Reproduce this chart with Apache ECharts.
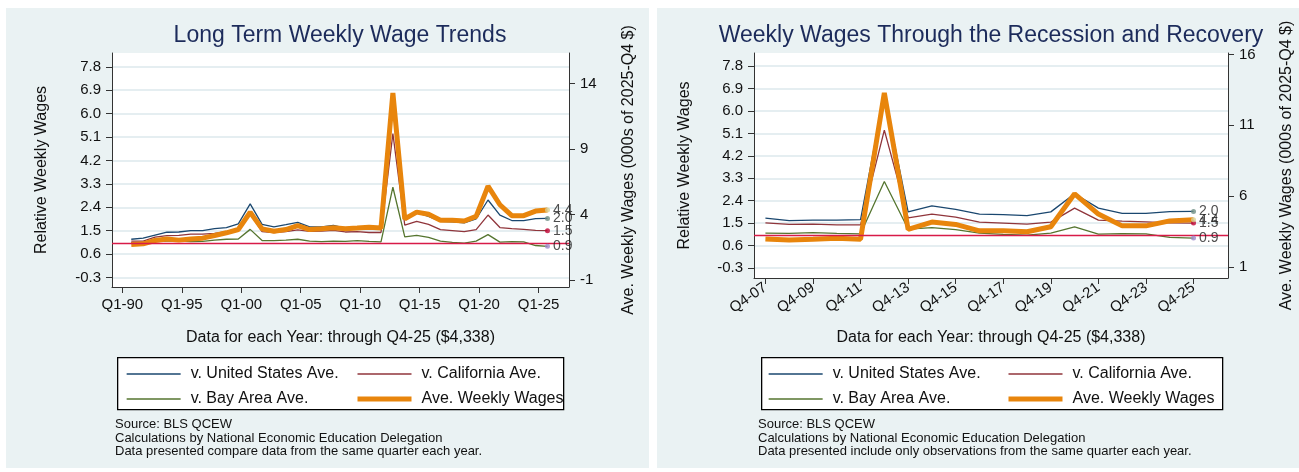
<!DOCTYPE html>
<html><head><meta charset="utf-8">
<script src="https://cdn.jsdelivr.net/npm/echarts@6/dist/echarts.min.js"></script>
<style>html,body{margin:0;padding:0;background:#fff}#c{width:1299px;height:472px}</style>
</head><body><div id="c"></div>
<script>
// ---- data (Q4 of each year) ----
const years = [1990,1991,1992,1993,1994,1995,1996,1997,1998,1999,2000,2001,2002,2003,2004,2005,2006,2007,2008,2009,2010,2011,2012,2013,2014,2015,2016,2017,2018,2019,2020,2021,2022,2023,2024,2025];
const usRel  = [1.17,1.21,1.33,1.44,1.45,1.50,1.50,1.58,1.62,1.76,2.53,1.74,1.65,1.73,1.82,1.65,1.65,1.70,1.60,1.62,1.62,1.64,6.70,1.95,2.19,2.05,1.86,1.84,1.80,1.95,2.68,2.10,1.89,1.89,1.96,1.97];
const caRel  = [1.10,1.10,1.25,1.31,1.32,1.37,1.37,1.40,1.46,1.53,2.15,1.46,1.43,1.46,1.53,1.47,1.48,1.51,1.45,1.46,1.43,1.43,5.23,1.71,1.86,1.74,1.54,1.50,1.46,1.54,2.10,1.62,1.58,1.55,1.51,1.50];
const bayRel = [1.04,1.04,1.08,1.10,1.10,1.08,1.09,1.14,1.17,1.18,1.55,1.12,1.12,1.14,1.17,1.10,1.08,1.10,1.09,1.12,1.09,1.07,3.17,1.26,1.32,1.24,1.10,1.05,1.02,1.10,1.35,1.06,1.08,1.07,0.93,0.90];
const avgWage = [1.70,1.76,2.01,2.13,2.04,2.13,2.19,2.39,2.60,2.85,4.17,2.90,2.72,2.85,3.15,2.85,2.90,2.99,2.91,2.96,3.03,2.97,13.28,3.66,4.18,4.01,3.56,3.56,3.50,3.85,6.17,4.74,3.91,3.91,4.26,4.338];
const endLabels = ['2.0','1.5','0.9','4.4'];
const recStartYear = 2007;

// ---- ticks ----
const relTicks = [-0.3,0.6,1.5,2.4,3.3,4.2,5.1,6.0,6.9,7.8];
const longWageTicks = [-1,4,9,14];
const recWageTicks = [1,6,11,16];
const longXTicks = [1990,1995,2000,2005,2010,2015,2020,2025];
const longXLabels = ['Q1-90','Q1-95','Q1-00','Q1-05','Q1-10','Q1-15','Q1-20','Q1-25'];
const recXTicks = [2007.75,2009.75,2011.75,2013.75,2015.75,2017.75,2019.75,2021.75,2023.75,2025.75];
const recXLabels = ['Q4-07','Q4-09','Q4-11','Q4-13','Q4-15','Q4-17','Q4-19','Q4-21','Q4-23','Q4-25'];

const names = ['v. United States Ave.','v. California Ave.','v. Bay Area Ave.','Ave. Weekly Wages'];
const colors = ['#1a476f','#90353b','#55752f','#e8850c'];
const dotColors = ['#6e8e84','#c10534','#9c88c9','#d7cf93'];
const FONT = 'Liberation Sans, Arial, Helvetica, sans-serif';
const AX = '#333';

function pts(arr, from){ return years.map((y,i)=>[y+0.75, arr[i]]).filter(p=>p[0] >= from); }

function xAxis(grid, min, max, ticks, labels, rotate, gap, margin){
  return {gridIndex:grid, type:'value', min:min, max:max,
    axisLine:{show:true, onZero:false, lineStyle:{color:AX, width:1}},
    axisTick:{show:true, length:6, customValues:ticks, lineStyle:{color:AX}},
    axisLabel:{customValues:ticks, rotate:rotate, margin:margin, fontSize:15, color:'#111', fontFamily:FONT,
      formatter:v=>labels[ticks.indexOf(v)]},
    splitLine:{show:false},
    name:'Data for each Year: through Q4-25 ($4,338)', nameLocation:'middle', nameGap:gap,
    nameTextStyle:{fontSize:16, color:'#111', fontFamily:FONT}};
}
function relAxis(grid, min, max, gap){
  return {gridIndex:grid, type:'value', position:'left', min:min, max:max,
    axisLine:{show:true, onZero:false, lineStyle:{color:AX}},
    axisTick:{show:true, length:6, customValues:relTicks, lineStyle:{color:AX}},
    axisLabel:{customValues:relTicks, margin:11, fontSize:15, color:'#111', fontFamily:FONT, formatter:v=>v.toFixed(1)},
    splitLine:{show:true, lineStyle:{color:'#dde8ec', width:1.5}},
    name:'Relative Weekly Wages', nameLocation:'middle', nameRotate:90, nameGap:gap,
    nameTextStyle:{fontSize:16, color:'#111', fontFamily:FONT}};
}
function wageAxis(grid, min, max, ticks, gap){
  return {gridIndex:grid, type:'value', position:'right', min:min, max:max,
    axisLine:{show:true, onZero:false, lineStyle:{color:AX}},
    axisTick:{show:true, length:6, customValues:ticks, lineStyle:{color:AX}},
    axisLabel:{customValues:ticks, margin:11, fontSize:15, color:'#111', fontFamily:FONT, formatter:v=>String(v)},
    splitLine:{show:false},
    name:'Ave. Weekly Wages (000s of 2025-Q4 $)', nameLocation:'middle', nameRotate:90, nameGap:gap,
    nameTextStyle:{fontSize:16, color:'#111', fontFamily:FONT}};
}

function panelSeries(xi, yRel, yWage, from){
  const rel = [usRel, caRel, bayRel];
  const s = [];
  rel.forEach((arr,i)=>{
    const o = {type:'line', name:names[i], xAxisIndex:xi, yAxisIndex:yRel, data:pts(arr,from),
      symbol:'none', showSymbol:false, animation:false, z:2,
      lineStyle:{width:1.3, color:colors[i]}, itemStyle:{color:colors[i]}};
    if(i===0){
      o.markLine = {silent:true, symbol:['none','none'], label:{show:false},
        lineStyle:{color:'#d81b48', width:1.3, type:'solid'}, data:[{yAxis:1}], animation:false};
    }
    s.push(o);
  });
  s.push({type:'line', name:names[3], xAxisIndex:xi, yAxisIndex:yWage, data:pts(avgWage,from),
    symbol:'none', showSymbol:false, animation:false, z:3,
    lineStyle:{width:5, color:colors[3]}, itemStyle:{color:colors[3]}});
  const last = years.length-1, lx = years[last]+0.75;
  const lab = {show:true, position:'right', distance:3, fontSize:14, color:'#222', fontFamily:FONT};
  s.push({type:'scatter', xAxisIndex:xi, yAxisIndex:yRel, symbolSize:5, animation:false, z:5,
    data: rel.map((arr,i)=>({value:[lx, arr[last]], itemStyle:{color:dotColors[i]}})),
    label:Object.assign({formatter:p=>endLabels[p.dataIndex]}, lab)});
  s.push({type:'scatter', xAxisIndex:xi, yAxisIndex:yWage, symbolSize:5, animation:false, z:5,
    data:[{value:[lx, avgWage[last]], itemStyle:{color:dotColors[3]}}],
    label:Object.assign({formatter:()=>endLabels[3]}, lab)});
  return s;
}

function legendPair(left, data){
  return {left:left, top:366, padding:0, orient:'vertical', itemWidth:54, itemHeight:14, itemGap:9,
    selectedMode:false, data:data, itemStyle:{opacity:0, borderWidth:0}, lineStyle:{width:'inherit'},
    textStyle:{fontSize:16, color:'#111', fontFamily:FONT, padding:[0,0,0,5]}};
}
function notes(x, last){
  return {type:'text', left:x, top:418, z:10, style:{text:'Source: BLS QCEW\nCalculations by National Economic Education Delegation\n'+last,
    fontSize:13, lineHeight:13.5, fill:'#111', fontFamily:FONT}};
}

const chart = echarts.init(document.getElementById('c'), null, {renderer:'canvas'});
chart.setOption({
  backgroundColor:'#ffffff',
  animation:false,
  textStyle:{fontFamily:FONT},
  title:[
    {text:'Long Term Weekly Wage Trends', left:340, textAlign:'center', top:24, padding:0,
      textStyle:{fontSize:23, fontWeight:'normal', color:'#1c2b5b', fontFamily:FONT}},
    {text:'Weekly Wages Through the Recession and Recovery', left:991, textAlign:'center', top:24, padding:0,
      textStyle:{fontSize:23, fontWeight:'normal', color:'#1c2b5b', fontFamily:FONT}}
  ],
  graphic:[
    {type:'rect', left:6, top:8, z:-10, shape:{width:643, height:460}, style:{fill:'#eaf2f3'}},
    {type:'rect', left:657, top:8, z:-10, shape:{width:642, height:460}, style:{fill:'#eaf2f3'}},
    {type:'rect', left:117, top:357, z:1, shape:{width:446, height:52}, style:{fill:'#ffffff', stroke:'#000', lineWidth:1.3}},
    {type:'rect', left:761, top:357, z:1, shape:{width:461, height:52}, style:{fill:'#ffffff', stroke:'#000', lineWidth:1.3}},
    notes(115, 'Data presented compare data from the same quarter each year.'),
    notes(758, 'Data presented include only observations from the same quarter each year.')
  ],
  legend:[
    legendPair(126, [names[0], names[2]]),
    legendPair(355, [names[1], names[3]]),
    legendPair(768, [names[0], names[2]]),
    legendPair(1006, [names[1], names[3]])
  ],
  grid:[
    {left:112, top:53, width:457, height:234, show:true, backgroundColor:'#ffffff', borderWidth:0},
    {left:754, top:53, width:474, height:225, show:true, backgroundColor:'#ffffff', borderWidth:0}
  ],
  xAxis:[
    xAxis(0, 1989.13, 2027.56, longXTicks, longXLabels, 0, 43, 10),
    xAxis(1, 2007.27, 2027.2, recXTicks, recXLabels, 35, 52, 8)
  ],
  yAxis:[
    relAxis(0, -0.665, 8.33, 62),
    wageAxis(0, -1.54, 16.33, longWageTicks, 52),
    relAxis(1, -0.705, 8.33, 61),
    wageAxis(1, 0.234, 16.1, recWageTicks, 51)
  ],
  series:[].concat(panelSeries(0,0,1,1990), panelSeries(1,2,3,recStartYear))
});
</script></body></html>
